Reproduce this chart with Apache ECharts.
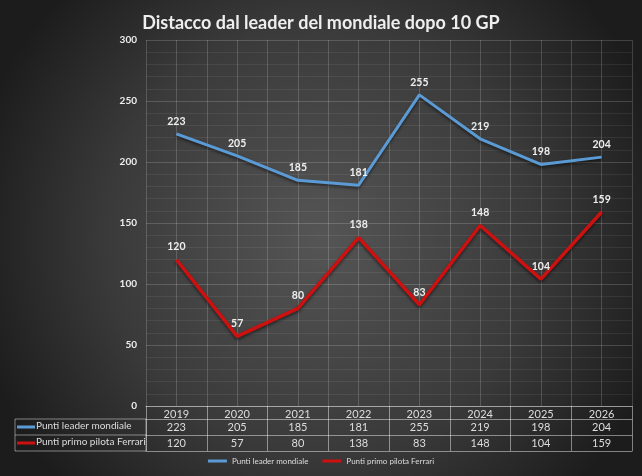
<!DOCTYPE html>
<html><head><meta charset="utf-8">
<script src="https://cdn.jsdelivr.net/npm/echarts@6/dist/echarts.min.js"></script>
<style>html,body{margin:0;padding:0;background:#222}#c{width:642px;height:476px}</style>
</head><body><div id="c"></div>
<script>
const years = ['2019','2020','2021','2022','2023','2024','2025','2026'];
const leader = [223,205,185,181,255,219,198,204];
const ferrari = [120,57,80,138,83,148,104,159];
const seriesNames = ['Punti leader mondiale','Punti primo pilota Ferrari'];
const yTicks = {min:0, max:300, interval:50};

const FONT = 'Lato';
const blue = '#5b9bd5', red = '#cc1111';
const major = 'rgba(255,255,255,0.17)', minor = 'rgba(255,255,255,0.07)', tbl = 'rgba(255,255,255,0.45)';
const chart = echarts.init(document.getElementById('c'));

function rowAxis(offset, values, showLabel) {
  return {
    type:'category', data: years, position:'bottom', offset: offset, boundaryGap:true,
    axisLine:{show:true, lineStyle:{color:tbl, width:1}},
    axisTick:{show:false}, splitLine:{show:false},
    axisLabel:{show:showLabel, interval:0, margin:3, color:'#dddddd', fontFamily:FONT, fontSize:11,
      formatter:(v,i)=> values ? String(values[i]) : v}
  };
}
const dataLabel = {show:true, position:'top', distance:7, color:'#eeeeee', fontFamily:FONT, fontSize:10.5, fontWeight:'bold'};

chart.setOption({
  backgroundColor:{type:'radial', x:0.5, y:0.5, r:0.75,
    colorStops:[{offset:0,color:'#555555'},{offset:0.6,color:'#3a3a3a'},{offset:1,color:'#1c1c1c'}]},
  animation:false,
  title:{text:'Distacco dal leader del mondiale dopo 10 GP', left:'center', top:9,
    textStyle:{color:'#eeeeee', fontFamily:FONT, fontSize:18, fontWeight:'bold'}},
  legend:{bottom:6, left:'center', itemWidth:19, itemHeight:3, itemGap:14,
    icon:'rect', textStyle:{color:'#dddddd', fontFamily:FONT, fontSize:8}, data:seriesNames},
  grid:{left:146, right:10, top:40, bottom:70, containLabel:false},
  xAxis:[
    {type:'category', data:years, boundaryGap:true, position:'bottom',
      axisLine:{show:true, lineStyle:{color:tbl}},
      axisTick:{show:true, interval:0, length:45, lineStyle:{color:tbl}},
      axisLabel:{interval:0, margin:3, color:'#dddddd', fontFamily:FONT, fontSize:11},
      splitLine:{show:true, interval:0, lineStyle:{color:major}}},
    rowAxis(13, leader, true),
    rowAxis(29, ferrari, true),
    rowAxis(45, null, false),
    {type:'value', min:0, max:8, interval:1, position:'top', show:true,
      axisLine:{show:false}, axisTick:{show:false}, axisLabel:{show:false},
      splitLine:{show:false}, minorTick:{show:false, splitNumber:2},
      minorSplitLine:{show:true, lineStyle:{color:major}}}
  ],
  yAxis:{type:'value', min:yTicks.min, max:yTicks.max, interval:yTicks.interval,
    axisLine:{show:false}, axisTick:{show:false},
    axisLabel:{color:'#eeeeee', fontFamily:FONT, fontSize:10, fontWeight:'bold', margin:9},
    splitLine:{lineStyle:{color:major}},
    minorTick:{show:false, splitNumber:5},
    minorSplitLine:{show:true, lineStyle:{color:minor}}},
  series:[
    {name:seriesNames[0], type:'line', data:leader, showSymbol:true, symbol:'circle', symbolSize:0.1,
      lineStyle:{color:blue, width:3, shadowColor:'rgba(0,0,0,0.5)', shadowBlur:3, shadowOffsetY:2},
      itemStyle:{color:blue}, label:dataLabel},
    {name:seriesNames[1], type:'line', data:ferrari, showSymbol:true, symbol:'circle', symbolSize:0.1,
      lineStyle:{color:red, width:3.5, shadowColor:'rgba(0,0,0,0.5)', shadowBlur:3, shadowOffsetY:2},
      itemStyle:{color:red}, label:dataLabel}
  ],
  graphic:[
    {type:'rect', shape:{x:15, y:419, width:131, height:32}, style:{fill:'none', stroke:tbl, lineWidth:1}},
    {type:'line', shape:{x1:15, y1:435, x2:146, y2:435}, style:{stroke:tbl, lineWidth:1}},
    {type:'line', shape:{x1:17, y1:427, x2:35, y2:427}, style:{stroke:blue, lineWidth:3}},
    {type:'line', shape:{x1:17, y1:443, x2:35, y2:443}, style:{stroke:red, lineWidth:3}},
    {type:'text', left:36, top:421, style:{text:seriesNames[0], fill:'#dddddd', font:'10px '+FONT}},
    {type:'text', left:36, top:437, style:{text:seriesNames[1], fill:'#dddddd', font:'10px '+FONT}}
  ]
});
</script></body></html>
